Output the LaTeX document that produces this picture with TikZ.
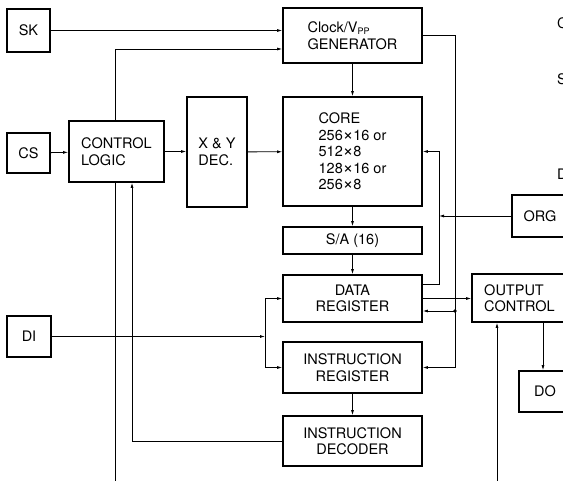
\documentclass[tikz,border=0pt]{standalone}
\usepackage{fontspec}
\setmainfont{TeX Gyre Heros}
\usetikzlibrary{arrows.meta}
\newcommand{\bigx}{{\fontsize{18}{16}\selectfont ×}}

\begin{document}
\begin{tikzpicture}[x=1pt,y=-1pt,
    blk/.style={draw,line width=1.6pt,inner sep=0pt,font=\fontsize{14.5}{16.5}\selectfont},
    arr/.style={line width=0.8pt,-{Latex[length=5pt,width=3pt]}},
    wire/.style={line width=0.8pt}]
    \useasboundingbox (0,0) rectangle (563,481);
    \clip (0,0) rectangle (563,481);
    % pins
    \node[blk,minimum width=43pt,minimum height=43pt] (sk) at (28.5,30.5) {SK};
    \node[blk,minimum width=43pt,minimum height=40pt] (cs) at (28.5,153) {CS};
    \node[blk,minimum width=44pt,minimum height=41pt] (di) at (29,336.5) {DI};
    % blocks
    \node[blk,align=left,minimum width=95pt,minimum height=61pt] (ctl) at (116.5,151.5) {CONTROL\\LOGIC};
    \node[blk,align=left,minimum width=60pt,minimum height=110pt] (dec) at (217,152) {X \& Y\\DEC.};
    \node[blk,align=left,minimum width=139pt,minimum height=55pt] (clk) at (352.5,35.5) {Clock/V\raisebox{-1.5pt}{\fontsize{9}{9}\selectfont PP}\\GENERATOR};
    \node[blk,align=left,minimum width=139pt,minimum height=109pt] (core) at (352.5,151.5) {CORE\\256\bigx16 or\\512\bigx8\\128\bigx16 or\\256\bigx8};
    \node[blk,minimum width=139pt,minimum height=27pt] (sa) at (352.5,240.5) {S/A (16)};
    \node[blk,align=center,minimum width=139pt,minimum height=47pt] (dreg) at (352.5,298.5) {DATA\\REGISTER};
    \node[blk,align=center,minimum width=139pt,minimum height=51pt] (ireg) at (352.5,367.5) {INSTRUCTION\\REGISTER};
    \node[blk,align=center,minimum width=139pt,minimum height=50pt] (idec) at (352.5,441) {INSTRUCTION\\DECODER};
    \node[blk,minimum width=56pt,minimum height=42pt] (org) at (540,216) {ORG};
    \node[blk,align=left,minimum width=95pt,minimum height=48pt] (oc) at (519.5,298) {OUTPUT\\CONTROL};
    \node[blk,minimum width=52pt,minimum height=41pt] (dout) at (545,391.5) {DO};
    % cut labels at the edge
    \node[anchor=base west,inner sep=0pt,font=\fontsize{14.5}{16.5}\selectfont] (lc) at (557,29) {C};
    \node[anchor=base west,inner sep=0pt,font=\fontsize{14.5}{16.5}\selectfont] (ls) at (557,85) {S};
    \node[anchor=base west,inner sep=0pt,font=\fontsize{14.5}{16.5}\selectfont] (ld) at (557,180) {D};
    % points on the wires
    \coordinate (cv) at (115,49);
    \coordinate (cb) at (115,481);
    \coordinate (fd) at (132,441);
    \coordinate (dj) at (265,336.5);
    \coordinate (fb) at (439,284);
    \coordinate (ck) at (455,311);
    \coordinate (ob) at (497,481);
    \coordinate (od) at (543,340);
    % connections
    \draw[arr] (sk.east) -- (sk.east -| clk.west);
    \draw[arr] (cv |- ctl.north) -- (cv) -- (cv -| clk.west);
    \draw[wire] (cv |- ctl.south) -- (cb);
    \draw[arr] (cs) -- (ctl);
    \draw[arr] (ctl.east) -- (ctl.east -| dec.west);
    \draw[arr] (dec) -- (core);
    \draw[arr] (clk) -- (core);
    \draw[arr] (core) -- (sa);
    \draw[arr] (sa) -- (dreg);
    \draw[arr] (ireg) -- (idec);
    \draw[arr] (clk.east) -| (ireg.east -| ck) -- (ireg.east);
    \draw[arr] (ck) -- (ck -| dreg.east);
    \fill (ck) circle (1.8pt);
    \draw[arr] (dreg.east |- fb) -| (fb |- core.east) -- (core.east);
    \draw[arr] (org.west) -- (org.west -| fb);
    \draw[arr] (dreg.east) -- (dreg.east -| oc.west);
    \draw[arr] (oc.south -| od) -- (dout.north -| od);
    \draw[arr] (ob) -- (ob |- oc.south);
    \draw[arr] (di.east) -- (dj);
    \draw[arr] (dj) |- (dreg.west);
    \draw[arr] (dj) |- (ireg.west);
    \draw[arr] (idec.west) -- (fd) -- (fd |- ctl.south);
\end{tikzpicture}
\end{document}
